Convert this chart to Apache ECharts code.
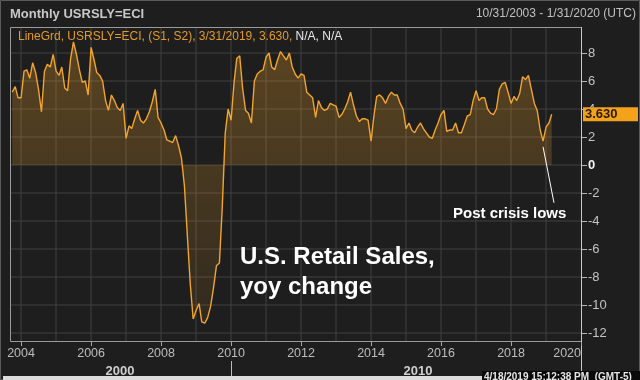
<!DOCTYPE html>
<html><head><meta charset="utf-8">
<script src="https://cdn.jsdelivr.net/npm/echarts@6/dist/echarts.min.js"></script>
<style>html,body{margin:0;padding:0;background:#1e1e1e;}#c{width:640px;height:380px;}</style>
</head><body><div id="c"></div>
<script>
// ---- data ----
const startYear = 2003, startMonth = 10; // first monthly observation (Oct 2003)
const values = [
  5.2, 5.6, 4.8, 4.8, 6.7, 6.8, 6.2, 7.3, 6.6, 5.4,
  3.8, 6.7, 7.2, 7.0, 7.9, 6.7, 6.4, 7.0, 5.5, 5.3,
  7.6, 8.8, 7.9, 6.8, 5.9, 6.0, 5.0, 8.4, 7.5, 6.6,
  6.4, 6.0, 4.6, 3.9, 5.0, 4.6, 4.1, 3.9, 4.4, 1.9,
  2.8, 2.6, 3.3, 3.9, 3.2, 3.0, 3.3, 3.8, 4.5, 5.4,
  3.4, 3.0, 2.5, 1.8, 1.7, 1.6, 2.1, 1.4, 0.5, -1.5,
  -5.0, -8.5, -11.0, -10.4, -9.9, -11.2, -11.3, -10.9, -10.1, -8.8,
  -7.2, -7.0, -3.0, 2.3, 4.0, 3.2, 5.9, 7.6, 7.8, 5.5,
  3.9, 3.7, 3.0, 6.0, 6.5, 6.7, 6.8, 7.7, 8.0, 7.0,
  6.8, 7.5, 8.1, 7.8, 7.5, 8.0, 7.0, 6.5, 6.2, 6.5,
  6.4, 5.2, 5.0, 4.8, 3.4, 4.6, 4.1, 3.9, 4.0, 4.4,
  4.3, 4.2, 3.4, 3.6, 4.0, 4.5, 5.2, 4.3, 3.5, 3.1,
  3.3, 3.3, 3.2, 1.7, 3.6, 4.9, 5.0, 4.8, 4.4, 4.9,
  5.2, 5.0, 5.0, 4.4, 4.0, 2.6, 3.0, 2.5, 2.3, 2.7,
  3.0, 2.6, 2.3, 2.0, 1.9, 2.5, 3.0, 3.6, 3.9, 2.4,
  2.5, 2.5, 3.0, 2.3, 2.3, 2.9, 3.5, 3.6, 4.6, 5.3,
  4.6, 4.8, 4.8, 4.0, 3.7, 3.6, 4.0, 5.4, 5.8, 5.9,
  5.2, 4.4, 4.9, 4.6, 5.1, 6.3, 6.1, 6.4, 5.4, 4.4,
  3.9, 2.5, 1.7, 2.7, 3.0, 3.63
];
const yTicks = [-12, -10, -8, -6, -4, -2, 0, 2, 4, 6, 8];
const gridYears = [2004, 2005, 2006, 2007, 2008, 2009, 2010, 2011, 2012, 2013, 2014, 2015, 2016, 2017, 2018, 2019];
const labelYears = [2004, 2006, 2008, 2010, 2012, 2014, 2016, 2018, 2020];
const xMin = '2003-10-01', xMax = '2020-01-01';
const eraLabels = ['2000', '2010'];
const titleText = 'Monthly USRSLY=ECI';
const rangeText = '10/31/2003 - 1/31/2020 (UTC)';
const legendMain = 'LineGrd, USRSLY=ECI, (S1, S2), 3/31/2019, 3.630, ';
const legendNA = 'N/A, N/A';
const noteMain = ['U.S. Retail Sales,', 'yoy change'];
const noteLows = 'Post crisis lows';
const noteLine = [['2018-12-01', 1.3], ['2019-03-25', -2.7]];
const stampText = '4/18/2019 15:12:38 PM  (GMT-5)';

// ---- build ----
const dates = values.map((v, i) => {
  const m = startMonth - 1 + i;
  const y = startYear + Math.floor(m / 12);
  const mm = (m % 12) + 1;
  return y + '-' + String(mm).padStart(2, '0') + '-01';
});
const seriesData = dates.map((d, i) => [d, values[i]]);
const ONE_YEAR = 365 * 24 * 3600 * 1000;
const FONT = 'Liberation Sans, Arial, sans-serif';
const GRID_COLOR = '#404040';
const FRAME_TOP = 28, FRAME_BOTTOM = 341;

const chart = echarts.init(document.getElementById('c'), null, {renderer: 'canvas'});
const baseGraphic = [
  {type: 'rect', silent: true, z: 100, shape: {x: 0.5, y: 0.5, width: 639, height: 379},
    style: {fill: 'none', stroke: '#5a5a5a', lineWidth: 1}},
  {type: 'rect', silent: true, z: 100, shape: {x: 10.5, y: 27.5, width: 571, height: 314},
    style: {fill: 'none', stroke: '#9a9a9a', lineWidth: 1}},
  {type: 'line', silent: true, z: 100, shape: {x1: 581.5, y1: 27, x2: 581.5, y2: 380},
    style: {stroke: '#c8c8c8', lineWidth: 1}},
  {type: 'line', silent: true, z: 100, shape: {x1: 231.5, y1: 361, x2: 231.5, y2: 380},
    style: {stroke: '#bdbdbd', lineWidth: 1}},
  {type: 'text', silent: true, z: 100, x: 120, y: 371,
    style: {text: eraLabels[0], fill: '#cfcfcf', font: 'bold 13px ' + FONT, textAlign: 'center', textVerticalAlign: 'middle'}},
  {type: 'text', silent: true, z: 100, x: 418, y: 371,
    style: {text: eraLabels[1], fill: '#cfcfcf', font: 'bold 13px ' + FONT, textAlign: 'center', textVerticalAlign: 'middle'}},
  {type: 'text', silent: true, z: 100, x: 10, y: 14,
    style: {text: titleText, fill: '#c8c8c8', font: 'bold 13px ' + FONT, textVerticalAlign: 'middle'}},
  {type: 'text', silent: true, z: 100, x: 636, y: 14,
    style: {text: rangeText, fill: '#c0c0c0', font: '12px ' + FONT, textAlign: 'right', textVerticalAlign: 'middle'}},
  {type: 'text', silent: true, z: 100, x: 18, y: 37,
    style: {
      text: '{a|' + legendMain + '}{b|' + legendNA + '}',
      textVerticalAlign: 'middle',
      rich: {
        a: {fill: '#e39b2a', font: '12px ' + FONT},
        b: {fill: '#e8e8e8', font: '12px ' + FONT}
      }
    }},
  {type: 'text', silent: true, z: 100, x: 240, y: 257,
    style: {text: noteMain[0], fill: '#ffffff', font: 'bold 24px ' + FONT, textVerticalAlign: 'middle'}},
  {type: 'text', silent: true, z: 100, x: 240, y: 287,
    style: {text: noteMain[1], fill: '#ffffff', font: 'bold 24px ' + FONT, textVerticalAlign: 'middle'}},
  {type: 'text', silent: true, z: 100, x: 453, y: 214,
    style: {text: noteLows, fill: '#ffffff', font: 'bold 15px ' + FONT, textVerticalAlign: 'middle'}},
  {type: 'rect', silent: true, z: 100, shape: {x: 3, y: 376, width: 479, height: 4},
    style: {fill: '#dcdcdc'}},
  {type: 'rect', silent: true, z: 100, shape: {x: 482, y: 371, width: 158, height: 9},
    style: {fill: '#0a0a0a'}},
  {type: 'text', silent: true, z: 101, x: 484, y: 377,
    style: {text: stampText, fill: '#e6e6e6', font: 'bold 10px ' + FONT, textVerticalAlign: 'middle'}}
];

const option = {
  backgroundColor: '#1e1e1e',
  animation: false,
  grid: {left: 12.25, right: 59, top: 53, bottom: 47, show: false},
  xAxis: {
    type: 'time', min: xMin, max: xMax,
    minInterval: ONE_YEAR, maxInterval: ONE_YEAR,
    offset: 9,
    axisLine: {show: false},
    axisTick: {show: false},
    splitLine: {show: false},
    axisLabel: {
      color: '#bdbdbd', fontSize: 12.5, fontFamily: FONT, margin: 5,
      alignMaxLabel: 'right', showMinLabel: true, showMaxLabel: true,
      hideOverlap: false,
      formatter: function (val) {
        const y = new Date(val).getFullYear();
        return labelYears.indexOf(y) >= 0 ? String(y) : '';
      }
    }
  },
  yAxis: {
    type: 'value', position: 'right',
    min: yTicks[0], max: yTicks[yTicks.length - 1], interval: yTicks[1] - yTicks[0],
    axisLine: {show: false},
    axisTick: {show: false},
    splitLine: {show: false},
    axisLabel: {
      color: '#c4c4c4', fontSize: 13, fontFamily: FONT, margin: 7,
      formatter: v => v === 0 ? '{z|0}' : String(v),
      rich: {z: {color: '#f2f2f2', fontWeight: 'bold', fontSize: 13, fontFamily: FONT}}
    }
  },
  series: [{
    type: 'line',
    data: seriesData, showSymbol: false, clip: false, silent: true, z: 3,
    lineStyle: {color: '#f2a52c', width: 1.4},
    areaStyle: {
      color: new echarts.graphic.LinearGradient(0, 0, 0, 1, [
        {offset: 0, color: 'rgba(236,160,40,0.42)'},
        {offset: 1, color: 'rgba(236,160,40,0.13)'}
      ])
    },
    markLine: {
      silent: true, symbol: ['none', 'none'], animation: false,
      label: {show: false},
      lineStyle: {color: '#ffffff', width: 1, type: 'solid'},
      data: [[{coord: noteLine[0]}, {coord: noteLine[1]}]]
    }
  }],
  graphic: baseGraphic
};
chart.setOption(option);

// grid lines, ticks and current-value marker, positioned through the chart's own scales
const extra = [];
gridYears.forEach(y => {
  const x = Math.round(chart.convertToPixel({xAxisIndex: 0}, y + '-01-01'));
  extra.push({type: 'line', silent: true, z: 1, shape: {x1: x, y1: FRAME_TOP, x2: x, y2: FRAME_BOTTOM},
    style: {stroke: GRID_COLOR, lineWidth: 1}});
});
labelYears.forEach(y => {
  const x = Math.round(chart.convertToPixel({xAxisIndex: 0}, y + '-01-01')) + 0.5;
  extra.push({type: 'line', silent: true, z: 100, shape: {x1: x, y1: FRAME_BOTTOM + 1, x2: x, y2: FRAME_BOTTOM + 5},
    style: {stroke: '#a8a8a8', lineWidth: 1}});
});
yTicks.forEach(v => {
  const yy = Math.round(chart.convertToPixel({yAxisIndex: 0}, v));
  extra.push({type: 'line', silent: true, z: 1, shape: {x1: 11, y1: yy, x2: 581, y2: yy},
    style: {stroke: GRID_COLOR, lineWidth: 1}});
  extra.push({type: 'line', silent: true, z: 100, shape: {x1: 582, y1: yy + 0.5, x2: 587, y2: yy + 0.5},
    style: {stroke: '#b8b8b8', lineWidth: 1}});
});
const lastVal = values[values.length - 1];
const yPix = chart.convertToPixel({yAxisIndex: 0}, lastVal);
extra.push({type: 'rect', silent: true, z: 110, shape: {x: 583, y: yPix - 7, width: 55, height: 14},
  style: {fill: '#f4a11c'}});
extra.push({type: 'text', silent: true, z: 111, x: 585, y: yPix,
  style: {text: lastVal.toFixed(3), fill: '#2a1c00', font: 'bold 13px ' + FONT, textVerticalAlign: 'middle'}});
chart.setOption({graphic: baseGraphic.concat(extra)});
</script>
</body></html>
